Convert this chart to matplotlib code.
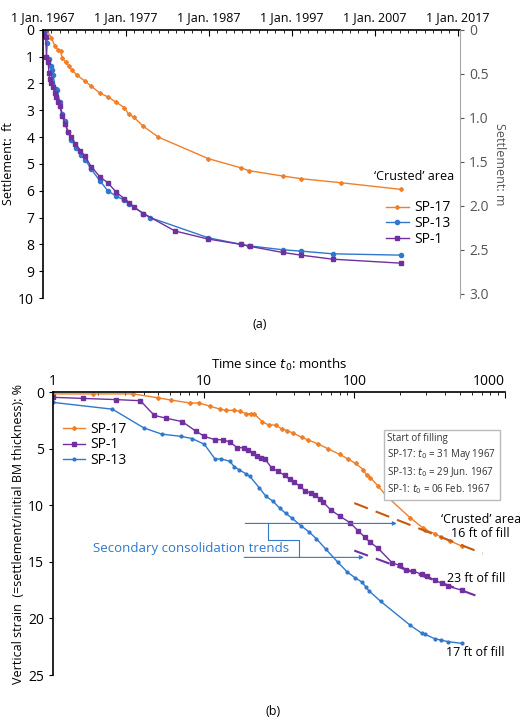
import matplotlib
matplotlib.use("Agg")
import matplotlib.pyplot as plt
import numpy as np

plt.rcParams['font.family'] = ['Open Sans', 'DejaVu Sans']
plt.rcParams['font.size'] = 9

ORANGE = '#f07f2a'; PURPLE = '#7030a0'; BLUE = '#2f78cc'; GREY = '#a6a6a6'

# Panel (a): settlement (ft) vs calendar year
sp17_yr = [1967.4,1968,1968.4,1968.8,1969.1,1969.3,1969.7,1970.1,1970.5,1971.1,1972,1972.8,1973.8,1974.8,1975.8,1976.8,1977.3,1977.9,1979.1,1980.9,1986.9,1990.9,1991.8,1995.9,1998.1,2002.9,2010.2]
sp17_ft = [0,0.3,0.6,0.75,0.8,1.05,1.2,1.35,1.5,1.7,1.9,2.1,2.35,2.5,2.7,2.9,3.15,3.25,3.6,4.0,4.8,5.15,5.25,5.45,5.55,5.7,5.95]
sp13_yr = [1967.0,1967.4,1967.5,1967.4,1967.7,1967.9,1968.1,1968.2,1968.5,1968.7,1969.0,1969.3,1969.6,1970.0,1970.4,1971.0,1971.6,1972.1,1972.8,1973.9,1974.8,1975.8,1976.8,1977.4,1979.1,1979.9,1986.9,1990.9,1991.8,1995.9,1998.1,2001.9,2010.2]
sp13_ft = [0,0,0.5,1.0,1.1,1.35,1.5,1.7,2.2,2.25,2.7,3.15,3.4,3.8,4.1,4.4,4.65,4.85,5.2,5.65,6.0,6.2,6.35,6.5,6.85,7.0,7.75,8.0,8.05,8.2,8.25,8.35,8.4]
sp1_yr = [1967.0,1967.1,1967.3,1967.4,1967.6,1967.7,1967.8,1968.0,1968.2,1968.4,1968.6,1968.8,1969.0,1969.3,1969.6,1970.0,1970.4,1970.9,1971.5,1972.0,1972.8,1973.9,1974.8,1975.8,1976.8,1977.4,1977.9,1979.1,1982.9,1986.9,1990.9,1991.9,1995.9,1998.1,2001.9,2010.2]
sp1_ft = [0,0.2,0.25,1.0,1.2,1.6,1.85,2.0,2.15,2.35,2.5,2.7,2.85,3.2,3.5,3.8,4.0,4.25,4.5,4.7,5.1,5.5,5.7,6.05,6.3,6.45,6.6,6.85,7.5,7.8,8.0,8.07,8.3,8.4,8.55,8.7]

# Panel (b): vertical strain (%) vs months since t0
b17_t = [1,1.84,3.4,5,6.1,8.1,9.3,11.1,12.9,14.1,16,17.4,19.2,20.5,21.6,24.5,27,30,33,36,39,45,49,57,67,80,91,102,115,121,128,144,164,235,286,295,343,375,432,517]
b17_s = [0.15,0.15,0.15,0.5,0.7,0.95,0.95,1.25,1.5,1.6,1.6,1.7,1.9,1.9,1.9,2.6,2.9,2.9,3.25,3.4,3.6,4.0,4.2,4.55,5.0,5.5,5.9,6.3,6.85,7.35,7.55,8.3,9.2,11.1,12.0,12.15,12.5,12.8,13.15,13.6]
b1_t = [1,1.58,2.6,3.8,4.7,5.65,7.2,8.9,10.1,11.9,13.4,14.9,16.7,18.5,19.8,21.3,22.7,24.2,25.5,28.3,31.2,34.5,37.2,39.6,43.5,46.9,51.2,54.6,58.9,62,69.6,80,94,106,117,127,144,179,200,222,246,280,302,343,380,418,517]
b1_s = [0.45,0.55,0.65,0.75,2.05,2.3,2.6,3.45,3.9,4.2,4.2,4.4,4.9,4.9,5.15,5.4,5.6,5.8,5.9,6.7,7.0,7.35,7.7,7.95,8.3,8.7,8.9,9.1,9.4,9.7,10.4,10.95,11.55,12.25,12.8,13.25,13.8,15.1,15.3,15.7,15.8,16.1,16.25,16.6,16.9,17.15,17.5]
b13_t = [1,2.48,4,5.25,7.06,8.4,10.1,11.9,13.1,14.9,16,17.2,19,20.3,23.4,25.9,28.9,32,35,38.3,44.2,50.1,56,65,78,90,101,113,119,125,150,235,280,295,343,375,418,517]
b13_s = [0.9,1.5,3.15,3.7,3.9,4.1,4.6,5.9,5.9,6.1,6.6,6.85,7.2,7.45,8.45,9.2,9.65,10.25,10.7,11.1,11.8,12.35,12.95,13.9,15.05,15.9,16.4,16.8,17.2,17.55,18.5,20.6,21.3,21.4,21.8,21.9,22.05,22.2]
trend17_t = [100, 711]; trend17_s = [9.8, 14.25]
trend1_t = [100, 711]; trend1_s = [14.0, 18.2]

fig = plt.figure(figsize=(5.2, 7.27), dpi=100)

# ---------- (a)
ax = fig.add_axes([0.083, 0.590, 0.802, 0.369])
ax.plot(sp17_yr, sp17_ft, color=ORANGE, marker='D', ms=2, lw=1, label='SP-17')
ax.plot(sp13_yr, sp13_ft, color=BLUE, marker='o', ms=3, lw=1, label='SP-13')
ax.plot(sp1_yr, sp1_ft, color=PURPLE, marker='s', ms=3, lw=1, label='SP-1')
ax.set_xlim(1967, 2017.3)
ax.set_ylim(10, 0)
ax.xaxis.tick_top()
ax.set_xticks([1967, 1977, 1987, 1997, 2007, 2017])
ax.set_xticklabels(['1 Jan. 1967', '1 Jan. 1977', '1 Jan. 1987', '1 Jan. 1997', '1 Jan. 2007', '1 Jan. 2017'])
ax.set_xticks(np.arange(1967, 2018, 1), minor=True)
ax.tick_params(axis='x', which='both', direction='in', pad=4, labelsize=9)
ax.tick_params(axis='x', which='major', length=4)
ax.tick_params(axis='x', which='minor', length=2)
ax.set_yticks(range(0, 11))
ax.tick_params(axis='y', direction='out', length=3, labelsize=10)
ax.spines['bottom'].set_visible(False)
ax.spines['right'].set_visible(False)
ax.set_ylabel('Settlement:  ft', fontsize=9, labelpad=2)
ax2 = ax.twinx()
ax2.set_ylim(10 * 0.3048, 0)
ax2.set_yticks([0, 0.5, 1.0, 1.5, 2.0, 2.5, 3.0])
ax2.set_yticklabels(['0', '0.5', '1.0', '1.5', '2.0', '2.5', '3.0'])
for s in ['top', 'bottom', 'left']:
    ax2.spines[s].set_visible(False)
ax2.spines['right'].set_color(GREY)
ax2.tick_params(axis='y', colors='#555555', labelcolor='#555555', length=3, labelsize=10)
ax2.set_ylabel('Settlement: m', rotation=270, labelpad=12, fontsize=9, color='#555555')
ax.text(0.985, 0.455, "\u2018Crusted\u2019 area", transform=ax.transAxes, ha='right', va='center', fontsize=9)
ax.legend(loc='upper right', bbox_to_anchor=(1.0, 0.40), frameon=False, fontsize=10,
          handlelength=1.6, handletextpad=0.4, labelspacing=0.05, borderpad=0.2)
fig.text(0.5, 0.553, '(a)', ha='center', va='center', fontsize=9)

# ---------- (b)
bx = fig.add_axes([0.102, 0.0715, 0.869, 0.389])
bx.plot(b17_t, b17_s, color=ORANGE, marker='D', ms=2, lw=1, label='SP-17')
bx.plot(b1_t, b1_s, color=PURPLE, marker='s', ms=3.2, lw=1, label='SP-1')
bx.plot(b13_t, b13_s, color=BLUE, marker='o', ms=2, lw=1, label='SP-13')
bx.plot(trend17_t, trend17_s, color='#c55a11', lw=1.5, dashes=(7, 4))
bx.plot(trend1_t, trend1_s, color=PURPLE, lw=1.5, dashes=(7, 4))
bx.set_xscale('log')
bx.set_xlim(1, 1000)
bx.set_ylim(25, 0)
bx.xaxis.tick_top()
bx.xaxis.set_label_position('top')
bx.set_xticks([1, 10, 100, 1000])
bx.set_xticklabels(['1', '10', '100', '1000'])
bx.tick_params(axis='x', which='both', direction='in', labelsize=10, pad=2)
bx.tick_params(axis='x', which='major', length=4)
bx.tick_params(axis='x', which='minor', length=2)
for lbl in bx.get_xticklabels():
    pass
bx.set_yticks([0, 5, 10, 15, 20, 25])
bx.tick_params(axis='y', direction='out', length=3, labelsize=10)
bx.spines['bottom'].set_visible(False)
bx.spines['right'].set_visible(False)
bx.set_xlabel('Time since $t_0$: months', fontsize=9.5, labelpad=4)
bx.set_ylabel('Vertical strain  (=settlement/initial BM thickness): %', fontsize=9, labelpad=2)
bx.legend(loc='upper left', bbox_to_anchor=(0.0, 0.93), frameon=False, fontsize=10,
          handlelength=1.6, handletextpad=0.4, labelspacing=0.05, borderpad=0.2)
bx.text(0.74, 0.855, 'Start of filling\nSP-17: $t_0$ = 31 May 1967\nSP-13: $t_0$ = 29 Jun. 1967\nSP-1: $t_0$ = 06 Feb. 1967',
        transform=bx.transAxes, ha='left', va='top', fontsize=7, color='#333333', linespacing=1.3,
        bbox=dict(boxstyle='square,pad=0.4', fc='white', ec='#bbbbbb', lw=1))
# secondary consolidation annotation
bx.annotate('', xy=(200, 11.6), xytext=(18.1, 11.6),
            arrowprops=dict(arrowstyle='-|>', color=BLUE, lw=0.8, mutation_scale=6))
bx.annotate('', xy=(121, 14.6), xytext=(17.8, 14.6),
            arrowprops=dict(arrowstyle='-|>', color=BLUE, lw=0.8, mutation_scale=6))
bx.plot([26.8, 26.8, 43, 43], [11.6, 13.1, 13.1, 14.6], color=BLUE, lw=0.8)
bx.text(8.3, 13.8, 'Secondary consolidation trends', color=BLUE, ha='center', va='center', fontsize=9.5)
bx.text(690, 11.9, "\u2018Crusted\u2019 area\n16 ft of fill", ha='center', va='center', fontsize=9, linespacing=1.1)
bx.text(1000, 16.5, '23 ft of fill', ha='right', va='center', fontsize=9)
bx.text(1000, 23.0, '17 ft of fill', ha='right', va='center', fontsize=9)
for t in (bx, ax):
    for sp in ['left', 'top']:
        t.spines[sp].set_linewidth(1.2)
fig.text(0.525, 0.012, '(b)', ha='center', va='bottom', fontsize=9)
fig.canvas.draw()
lbls = bx.get_xticklabels()
lbls[-1].set_ha('right')
fig.savefig('out.png', dpi=100)
